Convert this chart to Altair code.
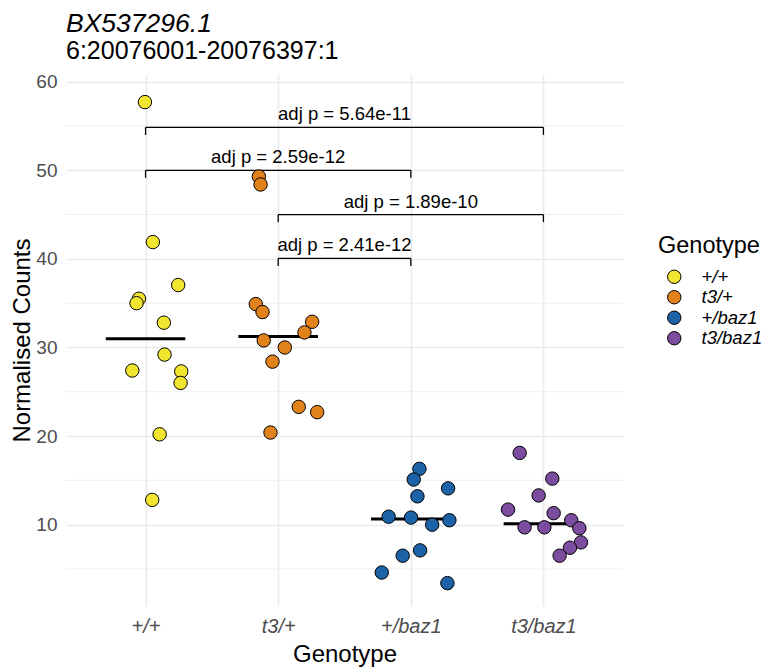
import altair as alt
import pandas as pd

# ---------------- data ----------------
genotypes = ["+/+", "t3/+", "+/baz1", "t3/baz1"]
colors = ["#F2E530", "#E2821A", "#1C62A6", "#7C4D9F"]

wt_counts = [57.7, 41.9, 37.05, 35.5, 35.0, 32.8, 29.2, 27.4, 27.3, 26.0, 20.2, 12.8]
wt_jitter = [-0.005, 0.055, 0.246, -0.050, -0.068, 0.138, 0.143, -0.100, 0.269, 0.264, 0.106, 0.050]

t3_counts = [49.3, 48.4, 34.9, 34.0, 32.9, 31.7, 30.8, 30.0, 28.4, 23.3, 22.7, 20.4]
t3_jitter = [-0.146, -0.133, -0.169, -0.118, 0.256, 0.198, -0.109, 0.050, -0.043, 0.155, 0.294, -0.058]

baz_counts = [16.3, 15.1, 14.1, 13.2, 10.9, 10.8, 10.5, 10.0, 7.1, 6.5, 4.6, 3.4]
baz_jitter = [0.065, 0.022, 0.281, 0.050, -0.167, 0.002, 0.291, 0.161, 0.070, -0.061, -0.219, 0.276]

t3baz_counts = [18.1, 15.2, 13.3, 11.7, 11.3, 10.5, 9.7, 9.7, 9.6, 8.0, 7.4, 6.5]
t3baz_jitter = [-0.179, 0.067, -0.036, -0.267, 0.077, 0.210, -0.142, 0.007, 0.271, 0.283, 0.200, 0.122]

bracket_from = [1, 1, 2, 2]
bracket_to = [4, 3, 4, 3]
bracket_y = [54.85, 50.0, 45.0, 40.05]
bracket_labels = ["adj p = 5.64e-11", "adj p = 2.59e-12", "adj p = 1.89e-10", "adj p = 2.41e-12"]

y_major = [10, 20, 30, 40, 50, 60]
y_minor = [5, 15, 25, 35, 45, 55]

# ---------------- tables ----------------
rows = []
for i, (g, cs, js) in enumerate(zip(genotypes,
                                    [wt_counts, t3_counts, baz_counts, t3baz_counts],
                                    [wt_jitter, t3_jitter, baz_jitter, t3baz_jitter])):
    for c, j in zip(cs, js):
        rows.append({"Genotype": g, "idx": i + 1, "pos": i + 1 + j, "count": c})
points_df = pd.DataFrame(rows)

TICK = 0.85
br_df = pd.DataFrame({
    "x1": bracket_from, "x2": bracket_to, "y": bracket_y, "label": bracket_labels,
})
br_df["xm"] = (br_df["x1"] + br_df["x2"]) / 2
br_df["ylo"] = br_df["y"] - TICK

minor_df = pd.DataFrame({"v": y_minor})

FONT = "Liberation Sans"
xs = alt.Scale(domain=[0.4, 4.6], nice=False, zero=False)
ys = alt.Scale(domain=[0.82, 60.87], nice=False, zero=False)

label_expr = "[''," + ",".join("'" + g + "'" for g in genotypes) + "][datum.value]"

X_AXIS = alt.Axis(values=[1, 2, 3, 4], labelExpr=label_expr, grid=True)
Y_AXIS = alt.Axis(values=y_major, grid=True)


def X(field):
    return alt.X(field, scale=xs, title="Genotype", axis=X_AXIS)


def Y(field):
    return alt.Y(field, scale=ys, title="Normalised Counts", axis=Y_AXIS)


minor = alt.Chart(minor_df).mark_rule(color="#EFEFEF", strokeWidth=1).encode(
    y=Y("v:Q")
)

base_pts = alt.Chart(points_df)

points = base_pts.mark_circle(size=180, opacity=1, stroke="black", strokeWidth=1).encode(
    x=X("pos:Q"),
    y=Y("count:Q"),
    color=alt.Color("Genotype:N",
                    scale=alt.Scale(domain=genotypes, range=colors),
                    legend=alt.Legend(title="Genotype", orient="none",
                                      legendX=592, legendY=160)),
)

medians = base_pts.transform_aggregate(
    med="median(count)", groupby=["idx"]
).transform_calculate(
    lo="datum.idx - 0.3", hi="datum.idx + 0.3"
).mark_rule(color="black", strokeWidth=3).encode(
    x=X("lo:Q"),
    x2="hi:Q",
    y=Y("med:Q"),
)

br = alt.Chart(br_df)
hline = br.mark_rule(color="black", strokeWidth=1.3).encode(
    x=X("x1:Q"), x2="x2:Q", y=Y("y:Q"),
)
ltick = br.mark_rule(color="black", strokeWidth=1.3).encode(
    x=X("x1:Q"), y=Y("y:Q"), y2="ylo:Q",
)
rtick = br.mark_rule(color="black", strokeWidth=1.3).encode(
    x=X("x2:Q"), y=Y("y:Q"), y2="ylo:Q",
)
btext = br.mark_text(font=FONT, fontSize=18.5, baseline="bottom", dy=-3, color="black").encode(
    x=X("xm:Q"), y=Y("y:Q"), text="label:N",
)

chart = alt.layer(minor, medians, hline, ltick, rtick, btext, points).properties(
    width=557, height=532,
    autosize=alt.AutoSizeParams(type="none"),
    padding={"left": 58, "top": 66, "right": 140, "bottom": 68},
    title=alt.TitleParams(
        text="BX537296.1", subtitle="6:20076001-20076397:1",
        anchor="start", frame="group", orient="top",
        font=FONT, fontSize=26.5, fontStyle="italic", fontWeight="normal", color="black",
        subtitleFont=FONT, subtitleFontSize=25, subtitleColor="black",
        subtitlePadding=1, offset=9,
    ),
).configure_view(stroke=None).configure_axis(
    domain=False, ticks=False,
    gridColor="#EBEBEB", gridWidth=1.6,
    labelFont=FONT, labelColor="#4D4D4D", labelFontSize=19,
    titleFont=FONT, titleColor="black", titleFontSize=24, titleFontWeight="normal",
).configure_axisX(
    labelFontStyle="italic", labelFontSize=20, labelPadding=10, titlePadding=6,
).configure_axisY(
    labelPadding=9, titlePadding=1,
).configure_legend(
    titleFont=FONT, titleFontSize=23.5, titleFontWeight="normal", titleColor="black",
    labelFont=FONT, labelFontSize=18.5, labelColor="black", labelFontStyle="italic",
    symbolSize=180, symbolStrokeColor="black", symbolStrokeWidth=1, symbolType="circle",
    symbolOffset=7, labelOffset=18, rowPadding=1.5, titlePadding=10,
)

chart.save("out.html", embed_options={"renderer": "svg", "actions": False})
